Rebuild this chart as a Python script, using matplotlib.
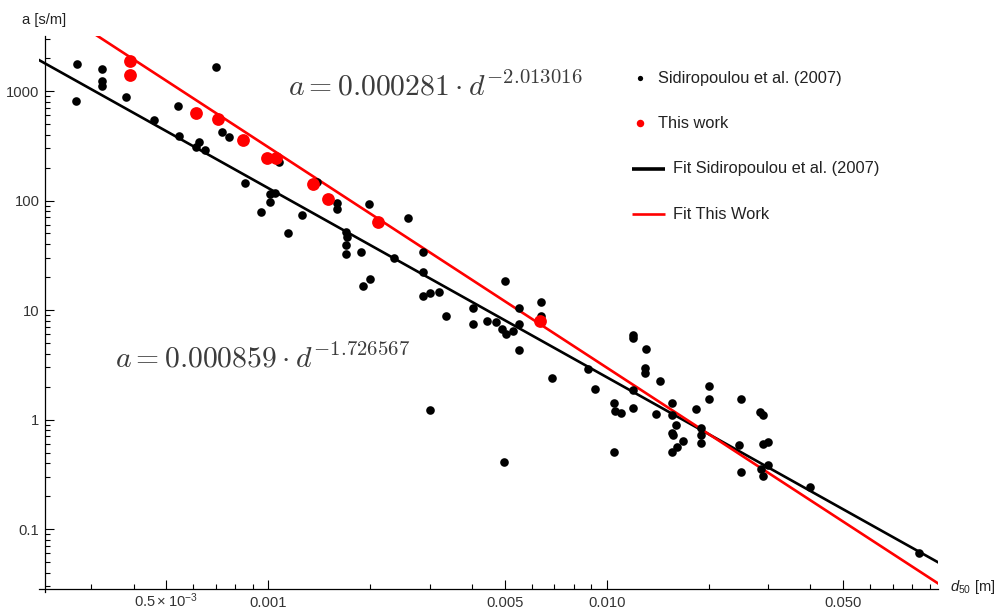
import numpy as np
import matplotlib
matplotlib.use("Agg")
import matplotlib.pyplot as plt
from matplotlib.lines import Line2D
from matplotlib.ticker import FixedLocator, FixedFormatter, NullFormatter

plt.rcParams["font.family"] = ["Liberation Sans", "DejaVu Sans"]
plt.rcParams["mathtext.fontset"] = "custom"
plt.rcParams["mathtext.rm"] = "Liberation Sans"
plt.rcParams["mathtext.it"] = "Liberation Sans:italic"
plt.rcParams["mathtext.bf"] = "Liberation Sans:bold"

# Sidiropoulou et al. (2007): grain size d50 [m] and coefficient a [s/m]
sid_d = [0.000273, 0.000271, 0.000323, 0.000323, 0.000323, 0.000381, 0.000702, 0.000460, 0.000541, 0.000546,
         0.000610, 0.000625, 0.000650, 0.000730, 0.000765, 0.000855, 0.000952, 0.001009, 0.001014, 0.001051,
         0.001073, 0.001142, 0.00126, 0.001395, 0.0016, 0.0016, 0.0017, 0.001708, 0.0017, 0.0017,
         0.00188, 0.00199, 0.0019, 0.002, 0.00236, 0.00259, 0.00286, 0.00286, 0.00286, 0.00301,
         0.0032, 0.00335, 0.00404, 0.00404, 0.00442, 0.0047, 0.00492, 0.00504, 0.0053, 0.0055,
         0.0055, 0.0055, 0.005, 0.0064, 0.0064, 0.00689, 0.003, 0.00499, 0.0088, 0.00923,
         0.012, 0.012, 0.0131, 0.013, 0.013, 0.0144, 0.01195, 0.0105, 0.0106, 0.011,
         0.012, 0.0105, 0.014, 0.0156, 0.0156, 0.016, 0.0156, 0.01575, 0.0168, 0.0161,
         0.0156, 0.0184, 0.02, 0.02, 0.019, 0.019, 0.019, 0.025, 0.0246, 0.025,
         0.0283, 0.0289, 0.0289, 0.03, 0.03, 0.0286, 0.0289, 0.0399, 0.0838]
sid_a = [1753, 810, 1588, 1226, 1111, 881, 1646, 540, 729, 386,
         310, 340, 287, 422, 378, 145.4, 78.5, 97.5, 114, 116.4,
         226, 50.2, 74.5, 147.6, 94.3, 84.5, 51.3, 46.1, 39.2, 32.3,
         34.1, 93.5, 16.5, 19.1, 30.0, 68.8, 34.1, 22.2, 13.4, 14.4,
         14.7, 8.87, 10.4, 7.50, 7.99, 7.77, 6.75, 6.04, 6.43, 7.45,
         10.5, 4.29, 18.6, 11.9, 8.82, 2.39, 1.23, 0.409, 2.89, 1.91,
         5.87, 5.59, 4.43, 2.94, 2.68, 2.25, 1.86, 1.42, 1.196, 1.14,
         1.266, 0.508, 1.13, 1.42, 1.10, 0.897, 0.758, 0.722, 0.641, 0.565,
         0.502, 1.255, 2.02, 1.55, 0.831, 0.718, 0.606, 1.53, 0.583, 0.330,
         1.164, 1.10, 0.601, 0.630, 0.383, 0.356, 0.308, 0.241, 0.0604]

# This work
work_d = [0.00039, 0.00039, 0.000611, 0.000713, 0.000844, 0.000991, 0.001056, 0.00136, 0.0015, 0.00211, 0.00636]
work_a = [1890, 1409, 634, 555, 357, 244.5, 244.5, 140.6, 104.3, 64.1, 7.94]

# Power-law fits a = c * d^k
fit_sid_c, fit_sid_k = 0.000859, -1.726567
fit_work_c, fit_work_k = 0.000281, -2.013016

x_ticks = [0.0005, 0.001, 0.005, 0.010, 0.050]
x_tick_labels = [r"$0.5\times10^{-3}$", "0.001", "0.005", "0.010", "0.050"]
y_ticks = [0.1, 1, 10, 100, 1000]
y_tick_labels = ["0.1", "1", "10", "100", "1000"]

legend_labels = ["Sidiropoulou et al. (2007)", "This work",
                 "Fit Sidiropoulou et al. (2007)", "Fit This Work"]

W, H = 998, 611
fig = plt.figure(figsize=(W / 100, H / 100), dpi=100)


def fpos(px, py):
    return px / W, 1 - py / H


ax = fig.add_axes([38.8 / W, 1 - 592.2 / H, (938.3 - 38.8) / W, (592.2 - 36) / H])
ax.set_xscale("log")
ax.set_yscale("log")
ax.set_xlim(0.00021, 0.0955)
ax.set_ylim(0.0265, 3180)

for s in ("top", "right"):
    ax.spines[s].set_visible(False)
ax.spines["left"].set_position(("data", 0.000219))
ax.spines["bottom"].set_position(("data", 0.0281))
for s in ("left", "bottom"):
    ax.spines[s].set_linewidth(0.9)

# fit curves
d_line = np.geomspace(0.00021, 0.0955, 200)
ax.plot(d_line, fit_sid_c * d_line ** fit_sid_k, color="black", lw=1.9, zorder=2)
ax.plot(d_line, fit_work_c * d_line ** fit_work_k, color="#ff0000", lw=1.9, zorder=2)

# data points
ax.plot(sid_d, sid_a, "o", color="black", ms=6.2, mew=0, zorder=3)
ax.plot(work_d, work_a, "o", color="#ff0000", ms=9.2, mew=0, zorder=4)

# ticks
ax.xaxis.set_major_locator(FixedLocator(x_ticks))
ax.xaxis.set_major_formatter(FixedFormatter(x_tick_labels))
x_minor = [k * 10.0 ** e for e in (-4, -3, -2) for k in range(2, 10)]
x_minor = [v for v in x_minor if not any(abs(v - t) < 1e-12 for t in x_ticks)]
ax.xaxis.set_minor_locator(FixedLocator(x_minor))
ax.xaxis.set_minor_formatter(NullFormatter())

ax.yaxis.set_major_locator(FixedLocator(y_ticks))
ax.yaxis.set_major_formatter(FixedFormatter(y_tick_labels))
y_minor = [k * 10.0 ** e for e in range(-2, 4) for k in range(2, 10)]
ax.yaxis.set_minor_locator(FixedLocator(y_minor))
ax.yaxis.set_minor_formatter(NullFormatter())

ax.tick_params(which="both", direction="in", width=0.8, color="black",
               labelcolor="#333333", labelsize=10.6)
ax.tick_params(which="major", length=6.5)
ax.tick_params(axis="y", which="major", pad=4)
ax.tick_params(axis="x", which="major", pad=13)
ax.tick_params(which="minor", length=3.6)
for lbl in ax.get_xticklabels():
    lbl.set_verticalalignment("baseline")

# axis labels
fig.text(*fpos(22, 20), "a [s/m]", ha="left", va="center", fontsize=10.6, color="#222222")
fig.text(*fpos(950, 587), r"$d_{50}$ [m]", ha="left", va="center", fontsize=10.6, color="#222222")

# fit equations
fig.text(*fpos(288, 95), r"$a = 0.000281 \cdot d^{-2.013016}$", math_fontfamily="cm",
         fontsize=21.4, color="#3c3c3c", ha="left", va="baseline")
fig.text(*fpos(115, 368), r"$a = 0.000859 \cdot d^{-1.726567}$", math_fontfamily="cm",
         fontsize=21.4, color="#3c3c3c", ha="left", va="baseline")

# legend
leg_rows = [78, 123, 168.5, 214]
fig.add_artist(Line2D([fpos(640, 0)[0]], [fpos(0, leg_rows[0])[1]], marker="o", color="black",
                      ms=3.8, mew=0, ls="none"))
fig.add_artist(Line2D([fpos(640, 0)[0]], [fpos(0, leg_rows[1])[1]], marker="o", color="#ff0000",
                      ms=5.4, mew=0, ls="none"))
fig.add_artist(Line2D([fpos(631.5, 0)[0], fpos(665, 0)[0]], [fpos(0, leg_rows[2])[1]] * 2,
                      color="black", lw=2.6, solid_capstyle="butt"))
fig.add_artist(Line2D([fpos(631.5, 0)[0], fpos(665, 0)[0]], [fpos(0, leg_rows[3])[1]] * 2,
                      color="#ff0000", lw=1.9, solid_capstyle="butt"))
for i, (lx, ly) in enumerate(zip([658, 658, 673, 673], leg_rows)):
    fig.text(*fpos(lx, ly), legend_labels[i], ha="left", va="center",
             fontsize=11.8, color="#222222")

fig.savefig("out.png", dpi=100)
